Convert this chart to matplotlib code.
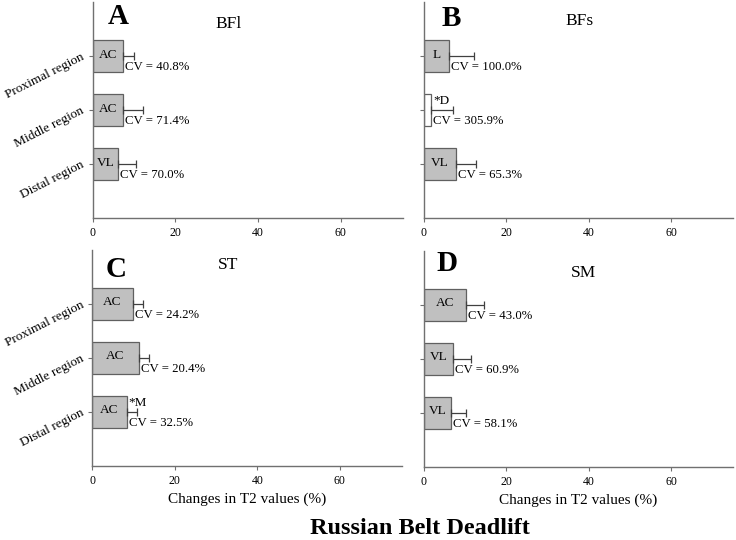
import numpy as np
import matplotlib
matplotlib.use("Agg")
import matplotlib.pyplot as plt
from matplotlib.transforms import blended_transform_factory

plt.rcParams['font.family'] = ['Liberation Serif', 'DejaVu Serif']

# order: Distal, Middle, Proximal (bottom to top)
regions = ["Distal region", "Middle region", "Proximal region"]

bfl_mean = [6.1, 7.3, 7.3]
bfl_err = [4.3, 4.8, 2.7]
bfl_lab = ["VL", "AC", "AC"]
bfl_cv = ["CV = 70.0%", "CV = 71.4%", "CV = 40.8%"]

bfs_mean = [7.7, 1.8, 6.1]
bfs_err = [4.9, 5.2, 6.0]
bfs_lab = ["VL", "", "L"]
bfs_cv = ["CV = 65.3%", "CV = 305.9%", "CV = 100.0%"]

st_mean = [8.4, 11.4, 9.9]
st_err = [2.6, 2.3, 2.4]
st_lab = ["AC", "AC", "AC"]
st_cv = ["CV = 32.5%", "CV = 20.4%", "CV = 24.2%"]

sm_mean = [6.5, 7.0, 10.2]
sm_err = [3.7, 4.3, 4.3]
sm_lab = ["VL", "VL", "AC"]
sm_cv = ["CV = 58.1%", "CV = 60.9%", "CV = 43.0%"]

panels = [
    ("A", "BFl", bfl_mean, bfl_err, bfl_lab, bfl_cv, {}, [0.126, 0.596, 0.421, 0.4], (6.2, 0.935), (33, 0.898)),
    ("B", "BFs", bfs_mean, bfs_err, bfs_lab, bfs_cv, {1: "*D"}, [0.576, 0.596, 0.42, 0.4], (6.7, 0.925), (37.8, 0.915)),
    ("C", "ST", st_mean, st_err, st_lab, st_cv, {0: "*M"}, [0.125, 0.137, 0.421, 0.4], (5.9, 0.912), (33, 0.93)),
    ("D", "SM", sm_mean, sm_err, sm_lab, sm_cv, {}, [0.576, 0.135, 0.42, 0.4], (5.6, 0.944), (38.8, 0.898)),
]

fig = plt.figure(figsize=(7.36, 5.4), dpi=100)
axcol = "#707070"
y = np.arange(1, 4)

for letter, muscle, mean, err, lab, cv, star, rect, lpos, mpos in panels:
    ax = fig.add_axes(rect)
    colors = ["white" if (letter == "B" and i == 1) else "#c0c0c0" for i in range(3)]
    ax.barh(y, mean, height=0.6, color=colors, edgecolor="#606060", linewidth=0.9, zorder=2)
    ax.errorbar(mean, y, xerr=[np.zeros(3), err], fmt="none", ecolor="#404040",
                elinewidth=0.9, capsize=3, capthick=0.9, zorder=3)
    for i in range(3):
        if lab[i]:
            ax.text(mean[i] / 2, y[i] + 0.03, lab[i], ha="center", va="center", fontsize=9.5)
        ax.text(mean[i] + 0.5, y[i] - 0.2, cv[i], ha="left", va="center", fontsize=9.2)
        if i in star:
            ax.text(mean[i] + 0.5, y[i] + 0.17, star[i], ha="left", va="center", fontsize=9.5)
    ax.set_xlim(0, 75)
    ax.set_ylim(0, 4)
    ax.set_xticks([0, 20, 40, 60])
    ax.set_yticks(y)
    for s in ("top", "right"):
        ax.spines[s].set_visible(False)
    for s in ("left", "bottom"):
        ax.spines[s].set_color(axcol)
        ax.spines[s].set_linewidth(1.0)
    ax.tick_params(colors=axcol, length=3, width=0.8, labelcolor="black")
    ax.tick_params(axis="x", labelsize=8.5)
    if letter in ("A", "C"):
        ax.set_yticklabels(regions, rotation=27, ha="right", va="center",
                           rotation_mode="anchor", fontsize=9.6)
    else:
        ax.set_yticklabels([])
    tr = blended_transform_factory(ax.transData, ax.transAxes)
    ax.text(lpos[0], lpos[1], letter, transform=tr,
            ha="center", va="center", fontsize=21, fontweight="bold")
    ax.text(mpos[0], mpos[1], muscle, transform=tr,
            ha="center", va="center", fontsize=12.5)
    if letter in ("C", "D"):
        ax.set_xlabel("Changes in T2 values (%)", fontsize=11, labelpad=4)

fig.text(0.571, 0.022, "Russian Belt Deadlift", ha="center", va="center",
         fontsize=17.5, fontweight="bold")

fig.savefig("out.png", dpi=100)
